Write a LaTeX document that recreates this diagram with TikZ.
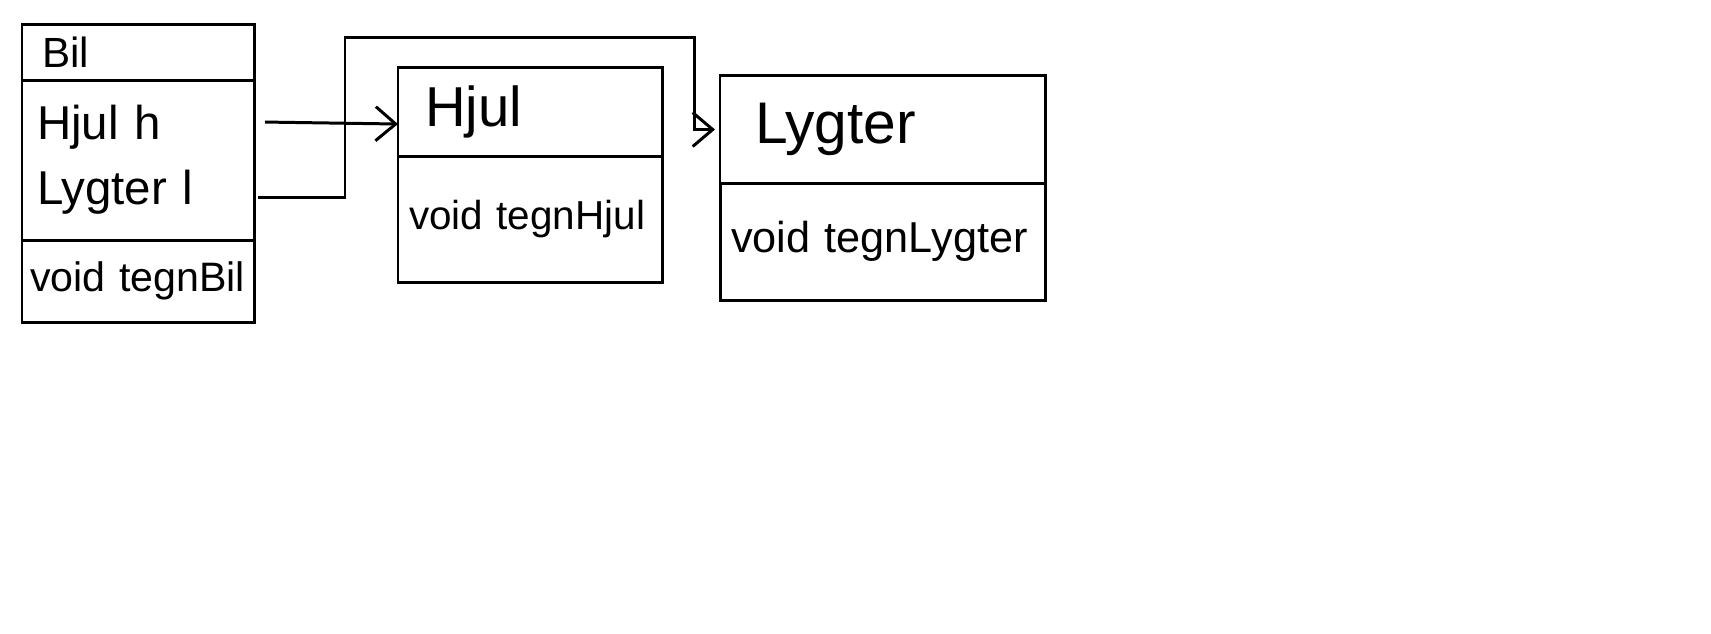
\documentclass[tikz,border=0pt]{standalone}
\usepackage{fontspec}
\setmainfont{Liberation Sans}
\usetikzlibrary{arrows.meta,positioning}

\begin{document}
\begin{tikzpicture}[
  x=0.01cm, y=-0.01cm,
  classpart/.style n args={3}{draw,line width=0.85pt,outer sep=0pt,inner ysep=0pt,
    minimum height=#1,text width=#2,inner xsep=#3,align=left},
  arrow/.style={-{Straight Barb[length=2mm,width=3.4mm]},line width=0.85pt}
]
  \useasboundingbox (0,0) rectangle (1711,634);
  % Bil
  \node[classpart={0.55cm}{1.92cm}{0.20cm},anchor=north west,font=\fontsize{12}{14}\selectfont] (bilhead) at (22,25) {Bil};
  \node[classpart={1.60cm}{2.02cm}{0.15cm},below=0pt of bilhead,font=\fontsize{13.5}{18.5}\selectfont] (bilattr) {Hjul h\\Lygter l};
  \node[classpart={0.82cm}{2.16cm}{0.08cm},below=0pt of bilattr,font=\fontsize{11.7}{14}\selectfont] (bilmeth) {void tegnBil};
  % Hjul
  \node[classpart={0.88cm}{2.10cm}{0.27cm},anchor=north west,font=\fontsize{16}{19}\selectfont] (hjulhead) at (398,68) {Hjul};
  \node[classpart={1.26cm}{2.42cm}{0.11cm},below=0pt of hjulhead,font=\fontsize{11.5}{14}\selectfont] (hjulmeth) {\mbox{void tegnHjul}};
  % Lygter
  \node[classpart={1.07cm}{2.55cm}{0.35cm},anchor=north west,font=\fontsize{16.7}{20}\selectfont] (lyghead) at (720,76) {Lygter};
  \node[classpart={1.17cm}{3.03cm}{0.11cm},below=0pt of lyghead,font=\fontsize{12.3}{15}\selectfont] (lygmeth) {\mbox{void tegnLygter}};
  % connectors
  \coordinate (bend) at (345,38);
  \draw[arrow] ([xshift=0.11cm,yshift=0.38cm]bilattr.east) -- ([yshift=-0.12cm]hjulhead.west);
  \draw[arrow] ([xshift=0.04cm,yshift=-0.37cm]bilattr.east) -| (bend) -| ([xshift=-0.25cm]lyghead.west) -- ([xshift=-0.05cm]lyghead.west);
\end{tikzpicture}
\end{document}
